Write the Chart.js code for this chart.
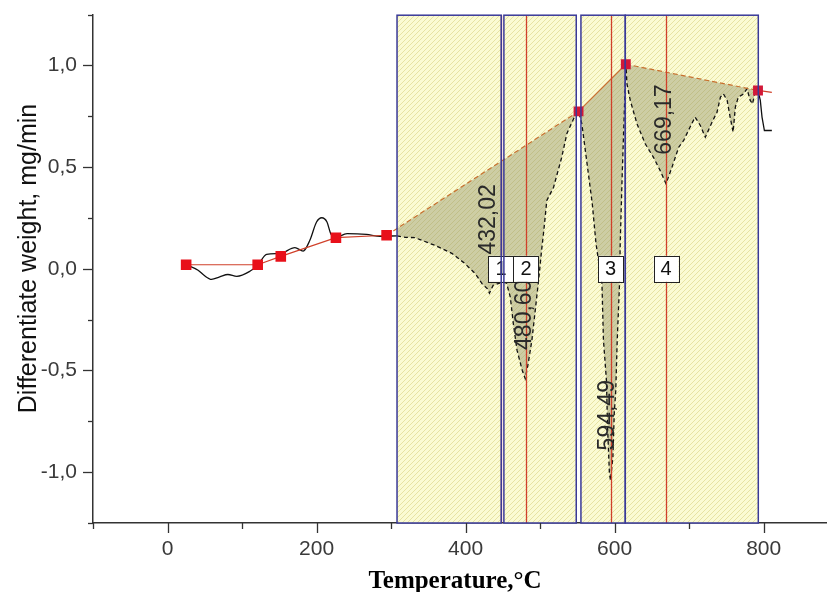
<!DOCTYPE html>
<html><head><meta charset="utf-8">
<script src="https://cdn.jsdelivr.net/npm/chart.js@4.4.0/dist/chart.umd.min.js"></script>
<style>html,body{margin:0;padding:0;background:#fff;overflow:hidden}</style>
</head><body>
<canvas id="c" width="827" height="592"></canvas>
<script>
// ---------- data ----------
const baseTemp = [25, 121, 152, 226, 294, 551.6, 615, 792.4, 811];
const baseVal  = [0.02, 0.02, 0.061, 0.153, 0.165, 0.774, 1.006, 0.877, 0.868];

const dtgTempA = [25, 41, 49, 59, 70, 81, 93, 111, 121, 133, 151, 171, 182, 191, 200, 207, 214, 219, 225, 241, 267, 285, 308];
const dtgValA  = [0.02, -0.007, -0.032, -0.052, -0.04, -0.028, -0.037, -0.011, 0.017, 0.071, 0.075, 0.104, 0.087, 0.14, 0.23, 0.251, 0.23, 0.173, 0.153, 0.173, 0.169, 0.16, 0.162];

const dtgTempB = [308, 319, 332, 359, 382, 399, 413, 422, 429, 432, 437, 450, 455, 460, 464, 469, 476, 480, 484, 489, 493, 498, 502, 505, 509, 518, 529, 536, 547, 551.6, 556, 563, 570, 575, 583, 585, 589, 590.5, 593, 594.5, 597.7, 599.5, 601.5, 603.5, 606.6, 607.5, 609.8, 612, 614.3, 615.2, 616.5, 621, 630, 641, 652, 661, 669, 677, 686, 692.6, 699, 708, 715, 721.7, 730.7, 737.4, 742, 746, 751, 755, 759, 762, 766, 773, 777.6, 782, 785, 788, 792.4];
const dtgValB  = [0.162, 0.155, 0.153, 0.115, 0.075, 0.026, -0.024, -0.073, -0.097, -0.12, -0.081, -0.065, -0.071, -0.139, -0.268, -0.4, -0.499, -0.54, -0.466, -0.351, -0.22, -0.056, 0.091, 0.189, 0.336, 0.4, 0.548, 0.666, 0.754, 0.774, 0.713, 0.517, 0.32, 0.124, -0.073, -0.351, -0.548, -0.777, -1.006, -1.04, -0.924, -0.711, -0.6, -0.351, -0.073, 0.124, 0.418, 0.664, 0.91, 1.008, 0.91, 0.828, 0.713, 0.615, 0.549, 0.484, 0.418, 0.5, 0.598, 0.631, 0.68, 0.746, 0.705, 0.647, 0.721, 0.77, 0.844, 0.86, 0.828, 0.746, 0.672, 0.795, 0.844, 0.86, 0.885, 0.828, 0.811, 0.86, 0.877];

const dtgTempC = [792.4, 795.5, 797.8, 801, 811];
const dtgValC  = [0.877, 0.828, 0.746, 0.68, 0.68];

const boxStart = [308, 451.4, 554.8, 614.3];
const boxEnd   = [447.8, 548.5, 614.3, 792.8];
const peakLines = [447.5, 481, 594.5, 669];
const peakNumbers = ['1', '2', '3', '4'];
const peakLabels = ['432,02', '480,60', '594,49', '669,17'];
const peakLabelTemp = [429.6, 478.3, 589.7, 665.3];
const peakLabelVal  = [0.243, -0.226, -0.72, 0.734];

const xTicks = [-100, 0, 100, 200, 300, 400, 500, 600, 700, 800];
const xLabeled = [0, 200, 400, 600, 800];
const yTicks = [-1.25, -1, -0.75, -0.5, -0.25, 0, 0.25, 0.5, 0.75, 1, 1.25];
const yLabeled = [-1, -0.5, 0, 0.5, 1];
const xTitle = 'Temperature,°C';
const yTitle = 'Differentiate weight, mg/min';

// ---------- helpers ----------
const pts = (t, v) => t.map((x, i) => ({x, y: v[i]}));
function hatch(bg, line, s) {
  const c = document.createElement('canvas'); c.width = s; c.height = s;
  const g = c.getContext('2d');
  g.fillStyle = bg; g.fillRect(0, 0, s, s);
  g.strokeStyle = line; g.lineWidth = 1;
  g.beginPath();
  g.moveTo(-1, s + 1); g.lineTo(s + 1, -1);
  g.moveTo(-1, 1); g.lineTo(1, -1);
  g.moveTo(s - 1, s + 1); g.lineTo(s + 1, s - 1);
  g.stroke();
  return g.createPattern(c, 'repeat');
}
const ctx0 = document.getElementById('c').getContext('2d');
const yellowHatch = hatch('#fbfbd3', '#e7e3a3', 5);

const BLUE = '#3a3a98', RED = '#d0402a';
const SANS = '"Liberation Sans", Arial, sans-serif';

const zeroPad = s => { s.paddingTop = 0; s.paddingBottom = 0; s.paddingLeft = 0; s.paddingRight = 0; };

const boxesPlugin = {
  id: 'boxes',
  beforeDatasetsDraw(chart) {
    const {ctx, scales: {x, y}} = chart;
    const top = y.getPixelForValue(1.247), bot = y.getPixelForValue(-1.25);
    ctx.save();
    boxStart.forEach((s, i) => {
      const l = x.getPixelForValue(s), r = x.getPixelForValue(boxEnd[i]);
      ctx.fillStyle = yellowHatch;
      ctx.fillRect(l, top, r - l, bot - top);
    });
    ctx.restore();
  },
  afterDatasetsDraw(chart) {
    const {ctx, scales: {x, y}} = chart;
    const top = y.getPixelForValue(1.247), bot = y.getPixelForValue(-1.25);
    ctx.save();
    ctx.strokeStyle = RED; ctx.lineWidth = 1.3;
    peakLines.forEach(t => {
      const px = Math.round(x.getPixelForValue(t)) + 0.5;
      ctx.beginPath(); ctx.moveTo(px, top); ctx.lineTo(px, bot); ctx.stroke();
    });
    ctx.fillStyle = '#2a2a2a';
    ctx.font = '23px ' + SANS;
    ctx.textAlign = 'center'; ctx.textBaseline = 'middle';
    peakLabels.forEach((txt, i) => {
      ctx.save();
      ctx.translate(x.getPixelForValue(peakLabelTemp[i]), y.getPixelForValue(peakLabelVal[i]));
      ctx.rotate(-Math.PI / 2);
      ctx.fillText(txt, 0, 1);
      ctx.restore();
    });
    ctx.font = '20px ' + SANS;
    peakNumbers.forEach((n, i) => {
      const cx = x.getPixelForValue(peakLines[i]), cy = y.getPixelForValue(0);
      ctx.fillStyle = '#fff';
      ctx.fillRect(cx - 12.5, cy - 13, 25, 26);
      ctx.strokeStyle = '#222'; ctx.lineWidth = 1;
      ctx.strokeRect(Math.round(cx - 12.5) + 0.5, Math.round(cy - 13) + 0.5, 25, 26);
      ctx.fillStyle = '#111';
      ctx.fillText(n, cx, cy + 1);
    });
    ctx.strokeStyle = BLUE; ctx.lineWidth = 1.5;
    boxStart.forEach((s, i) => {
      const l = x.getPixelForValue(s), r = x.getPixelForValue(boxEnd[i]);
      ctx.strokeRect(l, top, r - l, bot - top);
    });
    ctx.restore();
  },
  afterDraw(chart) {
    const {ctx, scales: {x, y}} = chart;
    ctx.save();
    ctx.strokeStyle = '#333'; ctx.lineWidth = 1.3;
    xTicks.forEach(v => {
      const px = Math.round(x.getPixelForValue(v)) + 0.5;
      const len = xLabeled.includes(v) ? 10 : 6;
      ctx.beginPath(); ctx.moveTo(px, x.top); ctx.lineTo(px, x.top + len); ctx.stroke();
    });
    yTicks.forEach(v => {
      const py = Math.round(y.getPixelForValue(v)) + 0.5;
      const len = yLabeled.includes(v) ? 10 : 5;
      ctx.beginPath(); ctx.moveTo(y.right, py); ctx.lineTo(y.right - len, py); ctx.stroke();
    });
    ctx.fillStyle = '#000';
    ctx.textAlign = 'center'; ctx.textBaseline = 'alphabetic';
    ctx.font = 'bold 25px "Liberation Serif", "Times New Roman", serif';
    ctx.fillText(xTitle, 455, 588);
    ctx.save();
    ctx.translate(36, 258.5);
    ctx.rotate(-Math.PI / 2);
    ctx.fillStyle = '#111';
    ctx.font = '25px ' + SANS;
    ctx.fillText(yTitle, 0, 0);
    ctx.restore();
    ctx.restore();
  }
};

new Chart(ctx0, {
  type: 'line',
  data: {
    datasets: [
      {
        data: pts(baseTemp, baseVal),
        borderColor: RED, borderWidth: 1.2,
        pointStyle: 'rect',
        pointRadius: [7.5, 7.5, 7.5, 7.5, 7.5, 7, 7, 7, 0],
        pointBackgroundColor: ['#e8101a', '#e8101a', '#e8101a', '#e8101a', '#e8101a', '#d21838', '#d21838', '#d21838', '#d21838'],
        pointBorderWidth: 0,
        segment: {
          borderDash: c => (c.p0DataIndex === 4 || c.p0DataIndex === 6) ? [5, 3] : [],
          borderColor: c => (c.p0DataIndex >= 4 && c.p0DataIndex <= 6) ? '#c8702e' : RED
        },
        tension: 0, fill: false
      },
      {
        data: pts(dtgTempA, dtgValA),
        borderColor: '#111', borderWidth: 1.3, pointRadius: 0,
        tension: 0.3, cubicInterpolationMode: 'monotone', fill: false
      },
      {
        data: pts(dtgTempB, dtgValB),
        borderColor: '#111', borderWidth: 1.3, borderDash: [4, 3], pointRadius: 0,
        tension: 0, fill: {target: 0}, backgroundColor: 'rgba(140,140,100,0.42)'
      },
      {
        data: pts(dtgTempC, dtgValC),
        borderColor: '#111', borderWidth: 1.3, pointRadius: 0, tension: 0, fill: false
      }
    ]
  },
  options: {
    responsive: false, animation: false, devicePixelRatio: 1,
    layout: {autoPadding: false, padding: {top: 14.6, right: 0, left: 0, bottom: 0}},
    plugins: {legend: {display: false}, tooltip: {enabled: false}},
    scales: {
      x: {
        type: 'linear', min: -100, max: 885,
        afterBuildTicks: s => { s.ticks = xTicks.map(v => ({value: v})); },
        afterFit: s => { s.height = 69; zeroPad(s); },
        grid: {display: false, drawTicks: true, tickLength: 10},
        border: {display: true, color: '#333', width: 1.5},
        ticks: {
          autoSkip: false, maxRotation: 0, padding: 4,
          color: '#3a3a3a', font: {family: SANS, size: 21},
          callback: v => xLabeled.includes(v) ? String(v) : ''
        }
      },
      y: {
        type: 'linear', min: -1.25, max: 1.25,
        afterBuildTicks: s => { s.ticks = yTicks.map(v => ({value: v})); },
        afterFit: s => { s.width = 93; zeroPad(s); },
        grid: {display: false, drawTicks: true, tickLength: 10},
        border: {display: true, color: '#333', width: 1.5},
        ticks: {
          autoSkip: false, padding: 6,
          color: '#3a3a3a', font: {family: SANS, size: 21},
          callback: v => yLabeled.includes(v) ? (v === 0 ? '0,0' : v.toFixed(1).replace('.', ',')) : ''
        }
      }
    }
  },
  plugins: [boxesPlugin]
});
</script>
</body></html>
